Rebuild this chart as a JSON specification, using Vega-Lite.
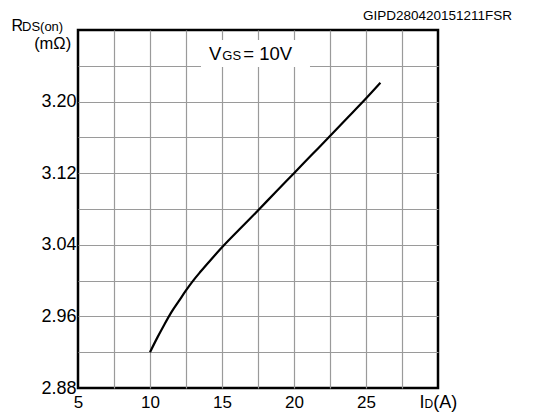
{
  "$schema": "https://vega.github.io/schema/vega-lite/v6.json",
  "width": 360,
  "height": 358,
  "autosize": {"type": "none"},
  "padding": {"left": 78, "top": 30, "right": 96, "bottom": 26},
  "background": "white",
  "config": {
    "font": "Liberation Sans",
    "view": {"stroke": "black", "strokeWidth": 2.5},
    "text": {"font": "Liberation Sans", "color": "black", "baseline": "alphabetic"}
  },
  "encoding": {
    "x": {"field": "x", "type": "quantitative", "scale": {"domain": [5, 30], "nice": false, "zero": false},
      "axis": {
        "values": [5, 7.5, 10, 12.5, 15, 17.5, 20, 22.5, 25, 27.5, 30],
        "labelExpr": "datum.value % 5 == 0 && datum.value < 29 ? datum.label : ''",
        "grid": true, "gridColor": "#9a9a9a", "gridWidth": 1.2,
        "gridOpacity": {"condition": {"test": "datum.value <= 5.01 || datum.value >= 29.99", "value": 0}, "value": 1},
        "ticks": false, "tickSize": 0, "domain": false,
        "labelFontSize": 17, "labelPadding": 6, "labelColor": "black",
        "labelFlush": false, "labelOverlap": false, "title": null
      }},
    "y": {"field": "y", "type": "quantitative", "scale": {"domain": [2.88, 3.28], "nice": false, "zero": false},
      "axis": {
        "values": [2.88, 2.92, 2.96, 3.0, 3.04, 3.08, 3.12, 3.16, 3.2, 3.24, 3.28],
        "labelExpr": "(round(datum.value*100) - 288) % 8 == 0 && datum.value < 3.27 ? format(datum.value, '.2f') : ''",
        "grid": true, "gridColor": "#9a9a9a", "gridWidth": 1.2,
        "gridOpacity": {"condition": {"test": "datum.value <= 2.881 || datum.value >= 3.279", "value": 0}, "value": 1},
        "ticks": false, "tickSize": 0, "domain": false,
        "labelFontSize": 18, "labelPadding": 2, "labelColor": "black",
        "labelOverlap": false, "title": null
      }}
  },
  "layer": [
    {
      "data": {"values": [{"x": 13.54, "x2": 21.11, "y": 3.2387, "y2": 3.2688}]},
      "mark": {"type": "rect", "fill": "white", "stroke": null},
      "encoding": {"x2": {"field": "x2"}, "y2": {"field": "y2"}}
    },
    {
      "data": {"values": [
        {"x": 10, "y": 2.92}, {"x": 10.5, "y": 2.936}, {"x": 11, "y": 2.951}, {"x": 11.5, "y": 2.965},
        {"x": 12, "y": 2.977}, {"x": 12.5, "y": 2.989}, {"x": 13, "y": 3.0}, {"x": 13.5, "y": 3.0098},
        {"x": 14.2, "y": 3.0228}, {"x": 15.1, "y": 3.0388}, {"x": 16.2, "y": 3.057}, {"x": 17.45, "y": 3.0775},
        {"x": 18.7, "y": 3.0985}, {"x": 20, "y": 3.12}, {"x": 21.2, "y": 3.14}, {"x": 22.35, "y": 3.159},
        {"x": 23.6, "y": 3.18}, {"x": 24.8, "y": 3.2}, {"x": 26, "y": 3.221}
      ]},
      "mark": {"type": "line", "color": "black", "strokeWidth": 2.2, "interpolate": "monotone"}
    },
    {
      "data": {"values": [{"x": 14.097, "y": 3.2465, "t": "V"}, {"x": 16.479, "y": 3.2465, "t": "= 10V"}]},
      "mark": {"type": "text", "fontSize": 18.5, "align": "left", "baseline": "alphabetic"},
      "encoding": {"text": {"field": "t"}}
    },
    {
      "data": {"values": [{"x": 15.021, "y": 3.2465, "t": "GS"}, {"x": 1.111, "y": 3.2789, "t": "DS(on)"}]},
      "mark": {"type": "text", "fontSize": 13, "align": "left", "baseline": "alphabetic"},
      "encoding": {"text": {"field": "t"}}
    },
    {
      "data": {"values": [{"x": 0.382, "y": 3.2789, "t": "R"}]},
      "mark": {"type": "text", "fontSize": 16, "align": "left", "baseline": "alphabetic"},
      "encoding": {"text": {"field": "t"}}
    },
    {
      "data": {"values": [{"x": 4.528, "y": 3.2588, "t": "(mΩ)"}]},
      "mark": {"type": "text", "fontSize": 16.5, "align": "right", "baseline": "alphabetic"},
      "encoding": {"text": {"field": "t"}}
    },
    {
      "data": {"values": [{"x": 28.715, "y": 2.8577, "t": "I"}, {"x": 29.67, "y": 2.8577, "t": "(A)"}]},
      "mark": {"type": "text", "fontSize": 18, "align": "left", "baseline": "alphabetic"},
      "encoding": {"text": {"field": "t"}}
    },
    {
      "data": {"values": [{"x": 29.06, "y": 2.8577, "t": "D"}]},
      "mark": {"type": "text", "fontSize": 12, "align": "left", "baseline": "alphabetic"},
      "encoding": {"text": {"field": "t"}}
    },
    {
      "data": {"values": [{"x": 35.14, "y": 3.2912, "t": "GIPD280420151211FSR"}]},
      "mark": {"type": "text", "fontSize": 13.5, "align": "right", "baseline": "alphabetic"},
      "encoding": {"text": {"field": "t"}}
    }
  ]
}
